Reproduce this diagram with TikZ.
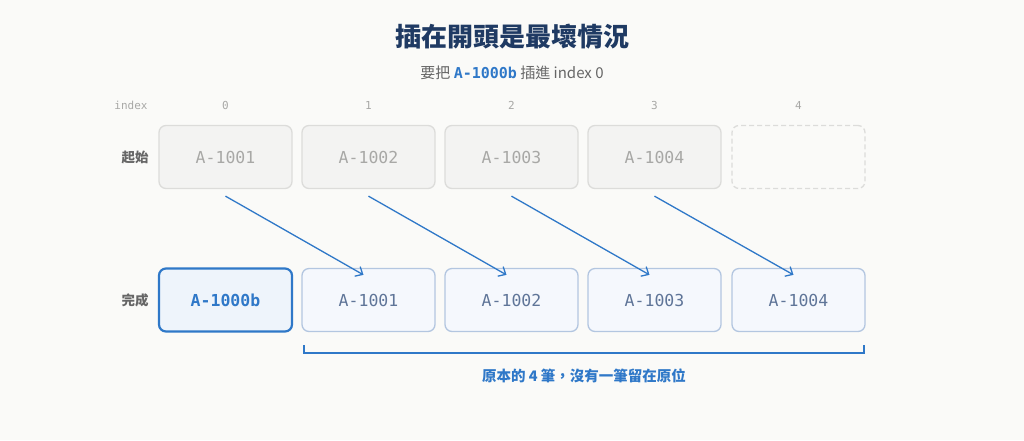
\documentclass[tikz,border=0pt]{standalone}
\usepackage{fontspec}
\setmainfont{Noto Sans CJK TC}
\newfontfamily\cjk{Noto Sans CJK TC}
\newfontfamily\mono{DejaVu Sans Mono}
\usetikzlibrary{arrows.meta}
\definecolor{bg}{HTML}{FAFAF8}
\definecolor{ttl}{HTML}{1F3A63}
\definecolor{blu}{HTML}{2F78C8}
\definecolor{gbox}{HTML}{F3F3F2}
\definecolor{gline}{HTML}{DCDCDA}
\definecolor{gtxt}{HTML}{A8A8A6}
\definecolor{nbox}{HTML}{F5F8FD}
\definecolor{nline}{HTML}{B3C6E0}
\definecolor{ntxt}{HTML}{5F7598}
\begin{document}
\begin{tikzpicture}[x=1pt,y=-1pt,
 old/.style={draw=gline,fill=gbox,line width=1.3pt,rounded corners=7pt,minimum width=133pt,minimum height=63pt,font=\mono\fontsize{16.5}{16.5}\selectfont,text=gtxt},
 empty/.style={draw=gline,line width=1.3pt,dashed,dash pattern=on 5pt off 3pt,rounded corners=7pt,minimum width=133pt,minimum height=63pt},
 new/.style={draw=nline,fill=nbox,line width=1.3pt,rounded corners=7pt,minimum width=133pt,minimum height=63pt,font=\mono\fontsize{16.5}{16.5}\selectfont,text=ntxt},
 ins/.style={draw=blu,fill=blu!8,line width=2.2pt,rounded corners=7pt,minimum width=133pt,minimum height=63pt,font=\mono\bfseries\fontsize{16.5}{16.5}\selectfont,text=blu},
 mv/.style={draw=blu,line width=1.3pt,-{Straight Barb[length=6pt,width=11pt]}},
 idx/.style={font=\mono\fontsize{11}{11}\selectfont,text=gtxt},
 rl/.style={font=\cjk\bfseries\fontsize{13.5}{13.5}\selectfont,text=black!60}]
\fill[bg] (0,0) rectangle (1024,440);
\useasboundingbox (0,0) rectangle (1024,440);
\node (title) at (512,37) {\cjk\bfseries\fontsize{26}{26}\selectfont\color{ttl}插在開頭是最壞情況};
\node (sub) at (512,73) {\fontsize{15}{15}\selectfont\color{black!60}要把 {\mono\bfseries\color{blu}A-1000b} 插進 index 0};
\node[idx] (ix) at (131,105) {index};
\foreach \i/\x in {0/225.5,1/368.5,2/511.5,3/654.5,4/798.5} \node[idx] (i\i) at (\x,105) {\i};
\node[rl] (r1) at (135,157) {起始};
\node[rl] (r2) at (135,300) {完成};
\node[old] (a0) at (225.5,157) {A-1001};
\node[old] (a1) at (368.5,157) {A-1002};
\node[old] (a2) at (511.5,157) {A-1003};
\node[old] (a3) at (654.5,157) {A-1004};
\node[empty] (a4) at (798.5,157) {};
\node[ins] (b0) at (225.5,300) {A-1000b};
\node[new] (b1) at (368.5,300) {A-1001};
\node[new] (b2) at (511.5,300) {A-1002};
\node[new] (b3) at (654.5,300) {A-1003};
\node[new] (b4) at (798.5,300) {A-1004};
\foreach \s/\t in {a0/b1,a1/b2,a2/b3,a3/b4}
  \draw[mv] ([yshift=-7pt]\s.south) -- ([xshift=-5pt,yshift=-7pt]\t.north);
\coordinate (L) at (304,345); \coordinate (R) at (864,345);
\draw[blu,line width=1.5pt] (L) -- ++(0,8) -| (R);
\node (note) at (584,376) {\cjk\bfseries\fontsize{14.5}{14.5}\selectfont\color{blu}原本的 4 筆，沒有一筆留在原位};
\end{tikzpicture}
\end{document}
